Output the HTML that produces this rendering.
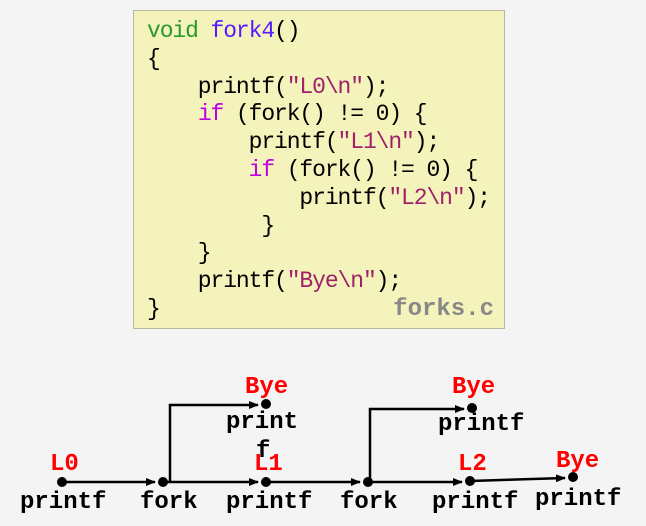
<!DOCTYPE html>
<html><head><meta charset="utf-8"><style>
html,body{margin:0;padding:0;background:#f4f4f4;}
body{width:646px;height:526px;overflow:hidden;position:relative;}
.code{position:absolute;left:133px;top:10px;width:370px;height:317px;background:#f3f3bb;border:1px solid #b8b8a0;}
pre{margin:0;position:absolute;left:13px;top:7px;font-family:"Liberation Mono",monospace;font-size:23px;letter-spacing:-1.1px;line-height:27.8px;color:#000;}
.g{color:#2a9a2a}.b{color:#5a1aff}.m{color:#c000e0}.s{color:#a0206a}
.fc{position:absolute;right:10px;bottom:5px;font-family:"Liberation Mono",monospace;font-weight:bold;font-size:24px;color:#888;}
</style></head><body>
<div class="code"><pre><span class="g">void</span> <span class="b">fork4</span>()
{
    printf(<span class="s">"L0\n"</span>);
    <span class="m">if</span> (fork() != 0) {
        printf(<span class="s">"L1\n"</span>);
        <span class="m">if</span> (fork() != 0) {
            printf(<span class="s">"L2\n"</span>);
         }
    }
    printf(<span class="s">"Bye\n"</span>);
}</pre><div class="fc">forks.c</div></div>
<svg width="646" height="526" style="position:absolute;left:0;top:0" font-family="Liberation Mono, monospace" font-weight="bold" font-size="24">
<defs><marker id="a" markerWidth="10" markerHeight="8" refX="9" refY="4" orient="auto" markerUnits="userSpaceOnUse"><path d="M0,0 L10,4 L0,8z" fill="#000"/></marker></defs>
<g stroke="#000" stroke-width="2.5" fill="none">
<line x1="62" y1="482" x2="155" y2="482" marker-end="url(#a)"/>
<line x1="163" y1="482" x2="258" y2="482" marker-end="url(#a)"/>
<line x1="266" y1="482" x2="360" y2="482" marker-end="url(#a)"/>
<line x1="368" y1="482" x2="462" y2="482" marker-end="url(#a)"/>
<line x1="470" y1="481" x2="565" y2="478" marker-end="url(#a)"/>
<polyline points="170,482 170,405 258,405" marker-end="url(#a)"/>
<polyline points="370,482 370,409 464,409" marker-end="url(#a)"/>
</g>
<g fill="#000">
<circle cx="62" cy="482" r="5"/><circle cx="163" cy="482" r="5"/><circle cx="266" cy="482" r="5"/>
<circle cx="368" cy="482" r="5"/><circle cx="470" cy="481" r="5"/><circle cx="573" cy="477" r="5"/>
<circle cx="266" cy="404" r="5"/><circle cx="472" cy="408" r="5"/>
</g>
<g fill="#000">
<text x="20" y="508">printf</text><text x="140" y="508">fork</text><text x="226" y="508">printf</text>
<text x="340" y="508">fork</text><text x="432" y="508">printf</text><text x="535" y="505">printf</text>
<text x="226" y="428">print</text><text x="256" y="457">f</text><text x="438" y="430">printf</text>
</g>
<g fill="#ff0000">
<text x="50" y="470">L0</text><text x="254" y="470">L1</text><text x="458" y="470">L2</text>
<text x="556" y="467">Bye</text><text x="245" y="393">Bye</text><text x="452" y="393">Bye</text>
</g>
</svg>
</body></html>
